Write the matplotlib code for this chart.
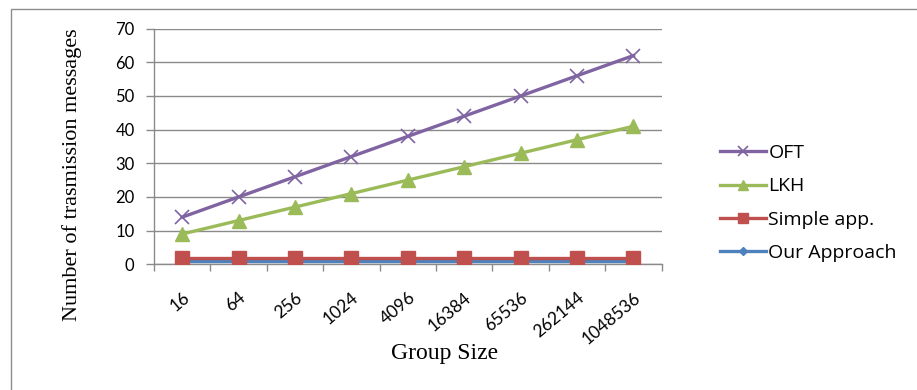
import numpy as np
import matplotlib.pyplot as plt
from matplotlib.patches import Rectangle

# group sizes (categories) and message counts per scheme
group_sizes = ["16", "64", "256", "1024", "4096", "16384", "65536", "262144", "1048536"]
oft = [14, 20, 26, 32, 38, 44, 50, 56, 62]
lkh = [9, 13, 17, 21, 25, 29, 33, 37, 41]
simple_app = [2, 2, 2, 2, 2, 2, 2, 2, 2]
our_approach = [1, 1, 1, 1, 1, 1, 1, 1, 1]

W, H = 917, 390
fig = plt.figure(figsize=(W / 100, H / 100), dpi=100)
ax = fig.add_axes([154 / W, 1 - 264.3 / H, (661.7 - 154) / W, (264.3 - 28.6) / H])

# outer chart frame; only its top and left edges fall inside the canvas
fig.patches.append(Rectangle((11 / W, -0.05), 2, 1.05 - 9.5 / H, transform=fig.transFigure,
                             fill=False, edgecolor="#8c8c8c", linewidth=1.0))

x = np.arange(len(group_sizes))
ax.plot(x, our_approach, color="#4F81BD", lw=2.4, marker="D", ms=5, label="Our Approach", zorder=3)
ax.plot(x, simple_app, color="#C0504D", lw=2.4, marker="s", ms=10, label="Simple app.", zorder=4)
ax.plot(x, lkh, color="#9BBB59", lw=2.4, marker="^", ms=10, label="LKH", zorder=5)
ax.plot(x, oft, color="#8064A2", lw=2.4, marker="x", ms=10, mew=1.2, label="OFT", zorder=6)

ax.set_xlim(-0.5, len(group_sizes) - 0.5)
ax.set_ylim(0, 70)
ax.set_yticks(range(0, 71, 10))
ax.yaxis.grid(True, color="#8a8a8a", lw=1.0)
ax.set_axisbelow(True)

# category labels at centres, tick marks at the boundaries
ax.set_xticks(x)
ax.set_xticklabels(group_sizes, rotation=40, ha="right", va="top", rotation_mode="anchor",
                   fontsize=12.5, family="Lato")
ax.tick_params(axis="x", length=0, pad=18)
ax.set_xticks(np.arange(-0.5, len(group_sizes)), minor=True)
ax.tick_params(axis="x", which="minor", length=5, color="#8a8a8a", width=1.0)
ax.tick_params(axis="y", length=6, color="#8a8a8a", width=1.0, labelsize=12, pad=8)
for lab in ax.get_yticklabels():
    lab.set_family("Lato")

for s in ["top", "right"]:
    ax.spines[s].set_visible(False)
for s in ["left", "bottom"]:
    ax.spines[s].set_color("#8a8a8a")
    ax.spines[s].set_linewidth(1.0)

fig.text(72 / W, 1 - 175 / H, "Number of trasmission messages", family="Liberation Serif",
         fontsize=16, rotation=90, ha="center", va="center")
fig.text(445 / W, 1 - 353 / H, "Group Size", family="Liberation Serif", fontsize=17,
         ha="center", va="center")

handles, labels = ax.get_legend_handles_labels()
leg = fig.legend(handles[::-1], labels[::-1], loc="center left", bbox_to_anchor=(702 / W, 1 - 203 / H),
                 frameon=False, prop={"family": "Open Sans", "size": 14}, handlelength=2.4,
                 handletextpad=0.12, labelspacing=0.78, markerscale=0.75)

fig.savefig("out.png", dpi=100)
